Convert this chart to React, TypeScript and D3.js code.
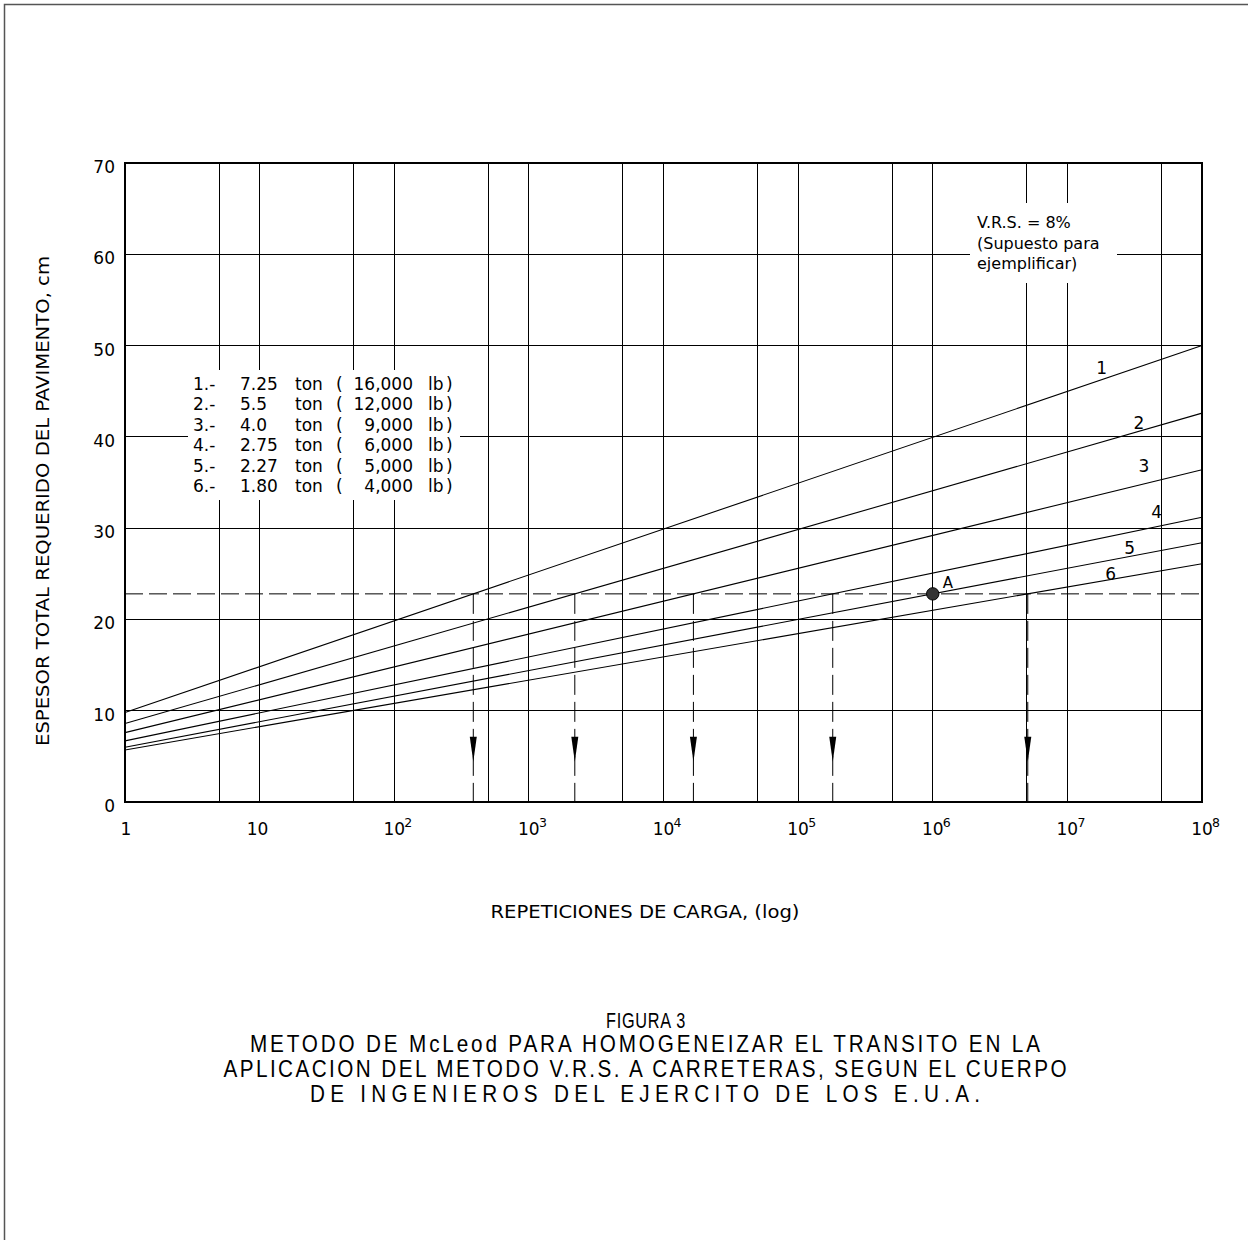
import React from "react";
import * as d3 from "d3";

// ---------- data ----------
const repeticionesExtremos = [1, 1e8];
const serie1 = [9.8, 50.0];
const serie2 = [8.6, 42.6];
const serie3 = [7.6, 36.4];
const serie4 = [6.7, 31.2];
const serie5 = [6.0, 28.4];
const serie6 = [5.7, 26.1];
const series = [serie1, serie2, serie3, serie4, serie5, serie6];
const serieNombres = ["1", "2", "3", "4", "5", "6"];
const espesorEjemplo = 22.8; // cm, dashed reference line
const seriePuntoA = 4; // index of series 5 -> point A

const yTicks = [0, 10, 20, 30, 40, 50, 60, 70];
const xDecadas = [0, 1, 2, 3, 4, 5, 6, 7, 8];
const xCincos = [5, 50, 500, 5e3, 5e4, 5e5, 5e6, 5e7];

const leyendaNum = ["1.-", "2.-", "3.-", "4.-", "5.-", "6.-"];
const leyendaTon = ["7.25", "5.5", "4.0", "2.75", "2.27", "1.80"];
const leyendaLb = ["16,000", "12,000", "9,000", "6,000", "5,000", "4,000"];

// label anchor (repetitions) for series numbers, and pixel offsets
const etiquetaRep = [1.8e7, 3.4e7, 3.7e7, 4.6e7, 2.9e7, 2.1e7];
const etiquetaDy = [-6, -2, -12, -9, -2, 0];

const vrsTexto = ["V.R.S. = 8%", "(Supuesto para", "ejemplificar)"];
const tituloFigura = "FIGURA 3";
const tituloLineas = [
  "METODO DE McLeod PARA HOMOGENEIZAR EL TRANSITO EN LA",
  "APLICACION DEL METODO V.R.S. A CARRETERAS, SEGUN EL CUERPO",
  "DE INGENIEROS DEL EJERCITO DE LOS E.U.A.",
];
const tituloAnchos = [790, 843, 670];

// ---------- layout ----------
const W = 1248;
const H = 1240;
const x = d3.scaleLog().domain([1, 1e8]).range([125, 1202]);
const y = d3.scaleLinear().domain([0, 70]).range([802, 163]);
const FONT = "'DejaVu Sans', Verdana, sans-serif";
const TITLE_FONT = "'Liberation Sans', Arial, sans-serif";
const SX = 0.9;
const SXF = 0.74;

function interseccion(s: number[]): number {
  const l0 = Math.log10(repeticionesExtremos[0]);
  const l1 = Math.log10(repeticionesExtremos[1]);
  const t = (espesorEjemplo - s[0]) / (s[1] - s[0]);
  return Math.pow(10, l0 + t * (l1 - l0));
}
function valorEn(s: number[], rep: number): number {
  const l0 = Math.log10(repeticionesExtremos[0]);
  const l1 = Math.log10(repeticionesExtremos[1]);
  const t = (Math.log10(rep) - l0) / (l1 - l0);
  return s[0] + t * (s[1] - s[0]);
}

export default function App() {
  const line = d3
    .line<[number, number]>()
    .x((d) => x(d[0]))
    .y((d) => y(d[1]));

  const x0 = x(1);
  const x1 = x(1e8);
  const y0 = y(0);
  const y1 = y(70);

  const arrowTipVal = 4.4;
  const arrowLen = 25;

  return (
    <svg
      width={W}
      height={H}
      viewBox={`0 0 ${W} ${H}`}
      style={{ position: "absolute", left: 0, top: 0, background: "#fff" }}
    >
      <rect x={0} y={0} width={W} height={H} fill="#fff" />
      <path d={`M4.5,${H} V4.5 H${W}`} fill="none" stroke="#555" strokeWidth={1.5} />

      {/* grid */}
      <g stroke="#000" strokeWidth={1} shapeRendering="crispEdges">
        {yTicks.map((v) => (
          <line key={"h" + v} x1={x0} x2={x1} y1={y(v)} y2={y(v)} />
        ))}
        {xDecadas.map((k) => (
          <line key={"d" + k} x1={x(Math.pow(10, k))} x2={x(Math.pow(10, k))} y1={y1} y2={y0} />
        ))}
        {xCincos.map((v) => (
          <line key={"c" + v} x1={x(v)} x2={x(v)} y1={y1} y2={y0} />
        ))}
      </g>

      {/* masks behind annotations */}
      <rect x={188} y={370} width={272} height={130} fill="#fff" />
      <rect x={970} y={203} width={147} height={80} fill="#fff" />

      {/* frame */}
      <rect x={x0} y={y1} width={x1 - x0} height={y0 - y1} fill="none" stroke="#000" strokeWidth={1.3} shapeRendering="crispEdges" />

      {/* series lines */}
      <g fill="none" stroke="#000" strokeWidth={1.1}>
        {series.map((s, i) => (
          <path
            key={"s" + i}
            d={line(repeticionesExtremos.map((r, j) => [r, s[j]] as [number, number])) || ""}
          />
        ))}
      </g>

      {/* dashed reference line */}
      <line
        x1={x0}
        x2={x1}
        y1={y(espesorEjemplo)}
        y2={y(espesorEjemplo)}
        stroke="#000"
        strokeWidth={1}
        strokeDasharray="18,6"
      />

      {/* vertical dashed arrows */}
      {series.map((s, i) => {
        if (i === seriePuntoA) return null;
        const xr = x(interseccion(s));
        const tip = y(arrowTipVal);
        return (
          <g key={"a" + i}>
            <line
              x1={xr}
              x2={xr}
              y1={y(espesorEjemplo)}
              y2={y0}
              stroke="#000"
              strokeWidth={1}
              strokeDasharray="20,7"
            />
            <path
              d={`M${xr - 3.5},${tip - arrowLen} L${xr + 3.5},${tip - arrowLen} L${xr},${tip} Z`}
              fill="#000"
            />
          </g>
        );
      })}

      {/* point A */}
      {(() => {
        const xa = x(interseccion(series[seriePuntoA]));
        const ya = y(espesorEjemplo);
        return (
          <g>
            <circle cx={xa} cy={ya} r={6.2} fill="#333" stroke="#000" strokeWidth={1} />
            <text x={xa + 10} y={ya - 6} fontFamily={FONT} fontSize={15} fill="#000">
              A
            </text>
          </g>
        );
      })()}

      {/* series number labels */}
      {series.map((s, i) => (
        <text
          key={"l" + i}
          x={x(etiquetaRep[i])}
          y={y(valorEn(s, etiquetaRep[i])) + etiquetaDy[i]}
          textAnchor="middle"
          fontFamily={FONT}
          fontSize={17}
          fill="#000"
        >
          {serieNombres[i]}
        </text>
      ))}

      {/* legend */}
      <g fontFamily={FONT} fontSize={17} fill="#000">
        {leyendaNum.map((n, i) => {
          const by = 390 + i * 20.4;
          return (
            <g key={"lg" + i}>
              <text x={193} y={by}>{n}</text>
              <text x={240} y={by}>{leyendaTon[i]}</text>
              <text x={295} y={by}>ton</text>
              <text x={336} y={by}>(</text>
              <text x={413} y={by} textAnchor="end">{leyendaLb[i]}</text>
              <text x={428} y={by}>lb</text>
              <text x={446} y={by}>)</text>
            </g>
          );
        })}
      </g>

      {/* V.R.S. note */}
      <g fontFamily={FONT} fontSize={16} fill="#000">
        {vrsTexto.map((t, i) => (
          <text key={"v" + i} x={977} y={228 + i * 20.5} xmlSpace="preserve">
            {t}
          </text>
        ))}
      </g>

      {/* y tick labels */}
      <g fontFamily={FONT} fontSize={17} fill="#000">
        {yTicks.map((v) => (
          <text key={"yt" + v} x={115} y={y(v) + 10} textAnchor="end">
            {v}
          </text>
        ))}
      </g>

      {/* x tick labels */}
      <g fontFamily={FONT} fontSize={17} fill="#000">
        {xDecadas.map((k) => {
          const xp = x(Math.pow(10, k));
          if (k === 0)
            return (
              <text key={"xt" + k} x={xp + 1} y={835} textAnchor="middle">
                1
              </text>
            );
          if (k === 1)
            return (
              <text key={"xt" + k} x={xp - 2} y={835} textAnchor="middle">
                10
              </text>
            );
          return (
            <g key={"xt" + k}>
              <text x={xp} y={835} textAnchor="middle">
                10
              </text>
              <text x={xp + 10} y={827} fontSize={12.5}>
                {k}
              </text>
            </g>
          );
        })}
      </g>

      {/* axis titles */}
      <text
        x={645}
        y={918}
        textAnchor="middle"
        fontFamily={FONT}
        fontSize={17}
        textLength={309}
        lengthAdjust="spacingAndGlyphs"
      >
        REPETICIONES DE CARGA, (log)
      </text>
      <text
        transform="translate(49,501) rotate(-90)"
        textAnchor="middle"
        fontFamily={FONT}
        fontSize={18}
        textLength={490}
        lengthAdjust="spacingAndGlyphs"
      >
        ESPESOR TOTAL REQUERIDO DEL PAVIMENTO, cm
      </text>

      {/* figure title */}
      <g transform={`scale(${SXF},1)`} fontFamily={TITLE_FONT} fontSize={22} fill="#000">
        <text x={646 / SXF} y={1028} textAnchor="middle" letterSpacing={1}>
          {tituloFigura}
        </text>
      </g>
      <g transform={`scale(${SX},1)`} fontFamily={TITLE_FONT} fontSize={23} fill="#000">
        {tituloLineas.map((t, i) => (
          <text
            key={"t" + i}
            x={645 / SX}
            y={1052 + i * 24.8}
            textAnchor="middle"
            textLength={tituloAnchos[i] / SX}
            lengthAdjust="spacing"
          >
            {t}
          </text>
        ))}
      </g>
    </svg>
  );
}
